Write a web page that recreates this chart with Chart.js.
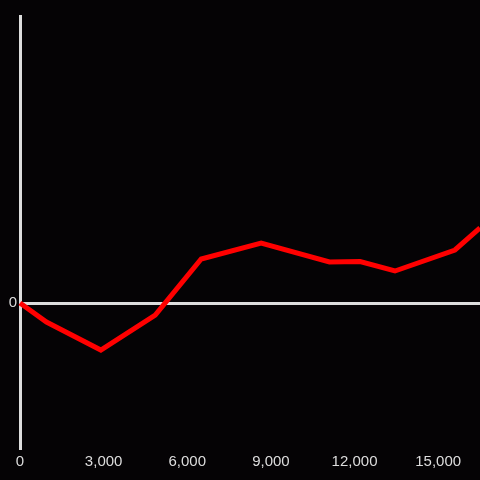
<!DOCTYPE html>
<html>
<head>
<meta charset="utf-8">
<script src="https://cdn.jsdelivr.net/npm/chart.js@4"></script>
<style>
html,body{margin:0;padding:0;background:#050305;}
#wrap{width:480px;height:480px;}
</style>
</head>
<body>
<div id="wrap"><canvas id="c" width="480" height="480"></canvas></div>
<script>
const xValues = [0, 950, 2900, 4850, 6500, 8650, 11100, 12200, 13450, 15600, 16500];
const yValues = [0, -19, -47, -12, 44, 60, 41, 41.5, 32, 53, 75];
const xTickValues = [0, 3000, 6000, 9000, 12000, 15000];
const xMin = 0, xMax = 16500;
const yMin = -145, yMax = 287;

const bg = {
  id: 'bg',
  beforeDraw(chart) {
    const ctx = chart.ctx;
    ctx.save();
    ctx.fillStyle = '#050305';
    ctx.fillRect(0, 0, chart.width, chart.height);
    ctx.restore();
  }
};

new Chart(document.getElementById('c'), {
  type: 'line',
  data: {
    datasets: [{
      data: xValues.map((x, i) => ({x: x, y: yValues[i]})),
      borderColor: '#ff0000',
      borderWidth: 5,
      pointRadius: 0,
      tension: 0,
      borderJoinStyle: 'miter',
      clip: false
    }]
  },
  options: {
    responsive: false,
    animation: false,
    layout: {padding: {top: 16, right: 0, left: 0, bottom: 0}},
    plugins: {legend: {display: false}, tooltip: {enabled: false}},
    scales: {
      x: {
        type: 'linear',
        min: xMin, max: xMax,
        border: {display: false},
        grid: {display: false, drawTicks: false},
        ticks: {
          color: '#dddddd',
          font: {family: 'Liberation Sans, Arial, sans-serif', size: 15},
          padding: 5,
          maxRotation: 0,
          autoSkip: false,
          callback: v => v.toLocaleString('en-US')
        },
        afterBuildTicks: s => { s.ticks = xTickValues.map(v => ({value: v})); },
        afterFit: s => { s.height = 32; }
      },
      y: {
        min: yMin, max: yMax,
        border: {display: true, color: '#dddddd', width: 3},
        grid: {
          drawTicks: false,
          lineWidth: ctx => (ctx.tick && ctx.tick.value === 0) ? 3 : 0,
          color: '#dddddd'
        },
        ticks: {
          color: '#dddddd',
          font: {family: 'Liberation Sans, Arial, sans-serif', size: 15},
          padding: 3,
          callback: v => v === 0 ? '0' : ''
        },
        afterBuildTicks: s => { s.ticks = [{value: 0}]; },
        afterFit: s => { s.width = 20; }
      }
    }
  },
  plugins: [bg]
});
</script>
</body>
</html>
